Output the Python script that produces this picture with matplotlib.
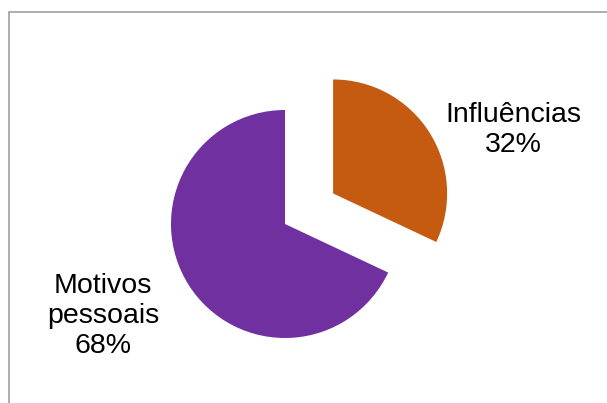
import matplotlib.pyplot as plt
from matplotlib.patches import Rectangle

categorias = ['Influências', 'Motivos pessoais']
valores = [32, 68]
etiquetas = ['Influências\n32%', 'Motivos\npessoais\n68%']
cores = ['#C55A11', '#7030A0']

plt.rcParams['font.family'] = ['Liberation Sans', 'DejaVu Sans']

W, H = 607, 403
fig = plt.figure(figsize=(W / 100, H / 100), dpi=100)
ax = fig.add_axes([0, 0, 1, 1])

# centro e raio do grafico em pixels
cx, cy, r = 285, 224, 114

ax.pie(valores, colors=cores, startangle=90, counterclock=False,
       explode=[0.5, 0], radius=1, wedgeprops={'linewidth': 0})

ax.set_xlim(-cx / r, (W - cx) / r)
ax.set_ylim(-(H - cy) / r, cy / r)
ax.set_aspect('equal')
ax.axis('off')

# posicoes das etiquetas (pixels)
pos = [(513, 130), (103, 316)]
for txt, (px, py) in zip(etiquetas, pos):
    ax.text((px - cx) / r, (cy - py) / r, txt, ha='center', va='center',
            fontsize=20.5, linespacing=1.2, color='black')

# moldura cinzenta
fig.add_artist(Rectangle((8.5 / W, -0.1), 1.2, (H - 11.5) / H + 0.1,
                         transform=fig.transFigure, fill=False,
                         edgecolor='#a0a0a0', linewidth=1.2))

fig.savefig('out.png', dpi=100)
